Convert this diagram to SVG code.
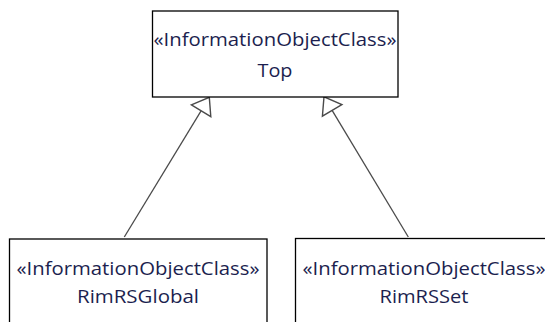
<svg xmlns="http://www.w3.org/2000/svg" width="545" height="322" viewBox="0 0 545 322">
  <style>
    .box { fill: #ffffff; stroke: #000000; stroke-width: 1.3; }
    .txt { font-family: "Open Sans", "Noto Sans", "DejaVu Sans", sans-serif; font-size: 19px; fill: #1c1f4f; text-anchor: middle; }
    .conn { stroke: #4a4a4a; stroke-width: 1.3; fill: none; marker-end: url(#gen); }
  </style>
  <defs>
    <marker id="gen" markerUnits="userSpaceOnUse" markerWidth="20" markerHeight="26" viewBox="-1 -12 17 24" refX="14.6" refY="0" orient="auto" overflow="visible">
      <path d="M0,-10.5 L14.6,0 L0,10.5 Z" fill="#ffffff" stroke="#4a4a4a" stroke-width="1.3" stroke-linejoin="miter"/>
    </marker>
  </defs>
  <rect width="545" height="322" fill="#ffffff"/>
  <g id="connectors">
    <line class="conn" x1="124.3" y1="237" x2="209.3" y2="97.3"/>
    <line class="conn" x1="408.3" y1="237" x2="324" y2="96.8"/>
  </g>
  <g id="node-top">
    <rect class="box" x="152.5" y="11" width="245.5" height="86"/>
    <text class="txt" x="275" y="46" textLength="243" lengthAdjust="spacingAndGlyphs">«InformationObjectClass»</text>
    <text class="txt" x="275" y="77" textLength="35" lengthAdjust="spacingAndGlyphs">Top</text>
  </g>
  <g id="node-rimrsglobal">
    <rect class="box" x="9.5" y="239" width="257.5" height="100"/>
    <text class="txt" x="138" y="275" textLength="243" lengthAdjust="spacingAndGlyphs">«InformationObjectClass»</text>
    <text class="txt" x="138" y="303" textLength="122" lengthAdjust="spacingAndGlyphs">RimRSGlobal</text>
  </g>
  <g id="node-rimrsset">
    <rect class="box" x="295.5" y="238.5" width="257.5" height="100"/>
    <text class="txt" x="424" y="275" textLength="243" lengthAdjust="spacingAndGlyphs">«InformationObjectClass»</text>
    <text class="txt" x="424" y="303" textLength="89" lengthAdjust="spacingAndGlyphs">RimRSSet</text>
  </g>
</svg>
